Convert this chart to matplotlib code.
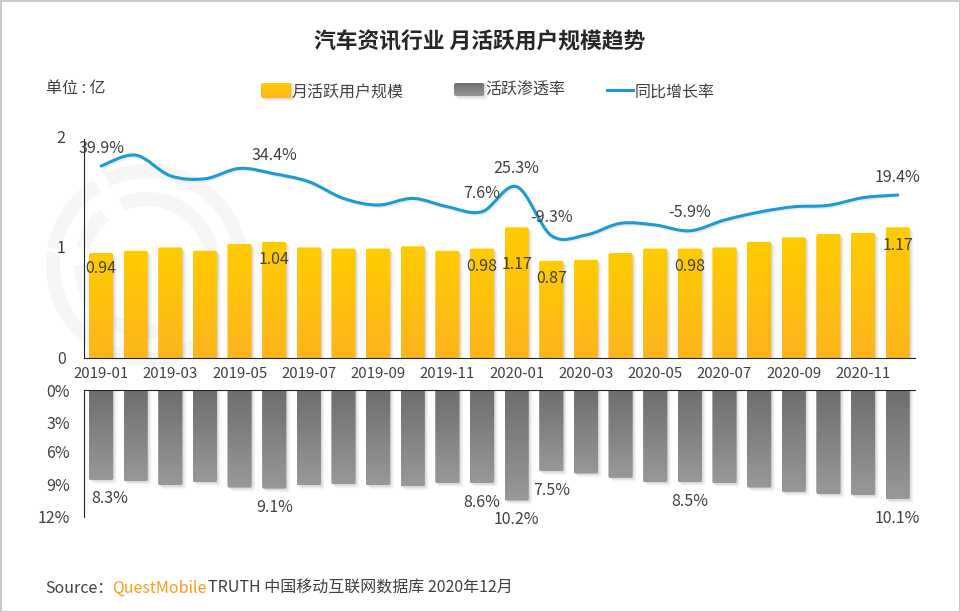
"""Monthly active users of auto-info apps, with penetration and YoY growth."""

import numpy as np
import matplotlib
matplotlib.use("Agg")
import matplotlib.pyplot as plt
from matplotlib.patches import FancyBboxPatch, PathPatch, Wedge
from matplotlib.path import Path
from matplotlib.transforms import Affine2D

plt.rcParams["font.family"] = ["Noto Sans CJK SC", "DejaVu Sans"]

# ── Data ─────────────────────────────────────────────────────────────────────

MONTHS = ["2019-01", "2019-02", "2019-03", "2019-04", "2019-05", "2019-06",
          "2019-07", "2019-08", "2019-09", "2019-10", "2019-11", "2019-12",
          "2020-01", "2020-02", "2020-03", "2020-04", "2020-05", "2020-06",
          "2020-07", "2020-08", "2020-09", "2020-10", "2020-11", "2020-12"]
MAU = [0.94, 0.96, 0.99, 0.96, 1.02, 1.04, 0.99, 0.98, 0.98, 1.00, 0.96, 0.98,
       1.17, 0.87, 0.88, 0.94, 0.98, 0.98, 0.99, 1.04, 1.08, 1.11, 1.12, 1.17]
PENETRATION = [8.3, 8.4, 8.8, 8.5, 9.0, 9.1, 8.8, 8.7, 8.8, 8.9, 8.6, 8.6,
               10.2, 7.5, 7.7, 8.1, 8.5, 8.5, 8.6, 9.0, 9.4, 9.6, 9.7, 10.1]
GROWTH = [39.9, 47.6, 33.0, 30.9, 38.2, 34.4, 28.8, 17.0, 12.3, 17.0, 11.1, 7.6,
          25.3, -9.3, -8.9, -0.6, -1.8, -5.9, 1.7, 7.3, 11.1, 12.1, 17.5, 19.4]

TOP_TICK_LABELS = ["0", "1", "2"]
BOTTOM_TICK_LABELS = ["0%", "3%", "6%", "9%", "12%"]

MAU_LABELS = {0: 0.94, 5: 1.04, 11: 0.98, 12: 1.17, 13: 0.87, 17: 0.98, 23: 1.17}
PEN_LABELS = {0: 8.3, 5: 9.1, 11: 8.6, 12: 10.2, 13: 7.5, 17: 8.5, 23: 10.1}
GROWTH_LABELS = {0: 39.9, 5: 34.4, 11: 7.6, 12: 25.3, 13: -9.3, 17: -5.9, 23: 19.4}

# ── Styling ──────────────────────────────────────────────────────────────────

W, H = 960, 612
TEXT = "#404040"
LINE_BLUE = "#1A9BD1"
YELLOW = ("#FFCC00", "#FDB51E")
GREY = ("#6E6E6E", "#989898")
WATERMARK = "#F6F6F6"
LIGHT = dict(color=TEXT, fontweight="light")


def px_axes(fig, left, top, right, bottom):
    """Axes placed by reference pixel edges."""
    return fig.add_axes([left / W, 1 - bottom / H, (right - left) / W, (bottom - top) / H])


def gradient_bar(ax, x, y0, y1, colors, width=0.7, radius=2.0, square_base=True):
    """Rounded bar from y0 to y1: vertical gradient plus a soft shadow to the lower right."""
    c0 = np.array(matplotlib.colors.to_rgb(colors[0]))
    c1 = np.array(matplotlib.colors.to_rgb(colors[1]))
    t = np.linspace(0, 1, 64)[:, None]
    img = (c0 * (1 - t) + c1 * t).reshape(64, 1, 3)

    ymin, ymax = ax.get_ylim()
    inverted = ymin > ymax
    x_unit = ax.get_window_extent().width / abs(np.ptp(ax.get_xlim()))
    y_unit = ax.get_window_extent().height / abs(np.ptp(ax.get_ylim()))
    aspect = x_unit / y_unit
    rounding = radius / x_unit
    low, high = min(y0, y1), max(y0, y1)

    # push the square base past the axis so only the free end looks rounded
    base_pad = (radius + 1) / y_unit if square_base else 0
    box_low = low - base_pad
    style = f"round,pad=0,rounding_size={rounding}"

    for off, alpha in [(4.0, 0.04), (3.0, 0.06), (2.0, 0.08), (1.0, 0.10)]:
        grow = off / y_unit if inverted else -off / y_unit
        ax.add_patch(FancyBboxPatch((x - width / 2 + off / x_unit, box_low), width,
                                    high - box_low + grow, boxstyle=style,
                                    mutation_aspect=aspect, fc="#707070", ec="none",
                                    alpha=alpha, zorder=2))

    box = FancyBboxPatch((x - width / 2, box_low), width, high - box_low, boxstyle=style,
                         mutation_aspect=aspect, fc="none", ec="none", zorder=3)
    ax.add_patch(box)
    # first image row is the screen top of the bar
    top_val, bot_val = (low, high) if inverted else (high, low)
    im = ax.imshow(img, extent=(x - width / 2, x + width / 2, bot_val, top_val),
                   origin="upper", aspect="auto", zorder=3, interpolation="bilinear")
    im.set_clip_path(box)
    ax.set_ylim(ymin, ymax)


def smooth_path(x, y):
    """Catmull-Rom through the points as cubic Bezier segments."""
    pts = np.column_stack([x, y])
    verts = [pts[0]]
    codes = [Path.MOVETO]
    for i in range(len(pts) - 1):
        p0 = pts[max(i - 1, 0)]
        p1, p2 = pts[i], pts[i + 1]
        p3 = pts[min(i + 2, len(pts) - 1)]
        verts += [p1 + (p2 - p0) / 6, p2 - (p3 - p1) / 6, p2]
        codes += [Path.CURVE4] * 3
    return Path(verts, codes)


def ring_piece(ax, center, radius, width, a1, a2):
    """Arc between screen angles a1 < a2 (counter-clockwise) on a y-down axes."""
    ax.add_patch(Wedge(center, radius, -a2, -a1, width=width, fc=WATERMARK, ec="none"))


# ── Figure ───────────────────────────────────────────────────────────────────

fig = plt.figure(figsize=(W / 100, H / 100), dpi=100, facecolor="white")

# page layer in pixel coordinates: frame and watermark
bg = fig.add_axes([0, 0, 1, 1], zorder=0)
bg.set_xlim(0, W)
bg.set_ylim(H, 0)
bg.axis("off")
for a1, a2 in [(172, 300), (122, 170), (-10, 115)]:
    ring_piece(bg, (147, 265), 101, 14, a1, a2)
for a1, a2 in [(180, 290), (130, 165), (-30, 113)]:
    ring_piece(bg, (147, 265), 73, 14, a1, a2)
bg.plot([0.5, W - 0.5, W - 0.5, 0.5, 0.5], [0.5, 0.5, H - 0.5, H - 0.5, 0.5],
        color="#C8C8C8", lw=1.4)

x = np.arange(len(MONTHS))

# ── Top panel ────────────────────────────────────────────────────────────────

ax = px_axes(fig, 83.7, 134.3, 915, 358.3)
ax.patch.set_alpha(0)
ax.set_zorder(2)
ax.set_xlim(-0.5, 23.5)
ax.set_ylim(0, 2)
for xi, v in zip(x, MAU):
    gradient_bar(ax, xi, 0, v, YELLOW)
ax.set_xlim(-0.5, 23.5)
ax.set_ylim(0, 2)
ax.set_yticks([0.01, 1, 1.98])
ax.set_yticklabels(TOP_TICK_LABELS, fontsize=11.5, **LIGHT)
ax.set_xticks(x[::2])
ax.set_xticklabels(MONTHS[::2], fontsize=10.8, **LIGHT)
ax.tick_params(axis="x", length=0, pad=6)
ax.tick_params(axis="y", length=0, pad=13)
for s in ("top", "right"):
    ax.spines[s].set_visible(False)
ax.spines["left"].set_bounds(0, 1.96)
for s in ("left", "bottom"):
    ax.spines[s].set_color("#262626")
    ax.spines[s].set_zorder(5)
MAU_DROP = {0: 0.135, 12: 0.33}
for i, v in MAU_LABELS.items():
    ax.text(i, v - MAU_DROP.get(i, 0.16), f"{v:.2f}", ha="center", va="center",
            fontsize=11.5, zorder=6, **LIGHT)

# growth line sits on its own hidden scale
ax2 = px_axes(fig, 83.7, 134.3, 915, 358.3)
ax2.set_zorder(3)
ax2.patch.set_alpha(0)
ax2.axis("off")
ax2.set_xlim(-0.5, 23.5)
ax2.set_ylim(-96, 62.3)
curve = smooth_path(x, np.array(GROWTH))
ax2.add_patch(PathPatch(curve, fc="none", ec="#BBBBBB", lw=2.2, alpha=0.3,
                        transform=ax2.transData + Affine2D().translate(1.5, -1.5)))
ax2.add_patch(PathPatch(curve, fc="none", ec=LINE_BLUE, lw=2.2, capstyle="round"))
for i, v in GROWTH_LABELS.items():
    ax2.text(i, v + 12.6, f"{v}%", ha="center", va="center", fontsize=11.5, **LIGHT)

# ── Bottom panel ─────────────────────────────────────────────────────────────

axb = px_axes(fig, 83.7, 390.3, 915, 520)
axb.patch.set_alpha(0)
axb.set_zorder(2)
axb.set_xlim(-0.5, 23.5)
axb.set_ylim(12, 0)
for xi, v in zip(x, PENETRATION):
    gradient_bar(axb, xi, 0, v, GREY)
axb.set_xlim(-0.5, 23.5)
axb.set_ylim(12, 0)
# axis labels run on a slightly tighter spacing than the bars
axb.set_yticks([0, 2.95, 5.7, 8.7, 11.7])
axb.set_yticklabels(BOTTOM_TICK_LABELS, fontsize=11.5, **LIGHT)
for lab in axb.get_yticklabels():
    lab.set_transform(lab.get_transform() + Affine2D().translate(0, 1))
axb.set_xticks([])
axb.tick_params(length=0, pad=10)
for s in ("bottom", "right"):
    axb.spines[s].set_visible(False)
axb.spines["left"].set_bounds(0, 11.7)
for s in ("left", "top"):
    axb.spines[s].set_color("#262626")
    axb.spines[s].set_zorder(5)
PEN_SHIFT = {0: 0.26}
for i, v in PEN_LABELS.items():
    axb.text(i + PEN_SHIFT.get(i, 0), v + 1.75, f"{v}%", ha="center", va="center",
             fontsize=11.5, clip_on=False, **LIGHT)

# ── Texts and legend ─────────────────────────────────────────────────────────

top = fig.add_axes([0, 0, 1, 1], zorder=5)
top.set_xlim(0, W)
top.set_ylim(H, 0)
top.axis("off")
top.patch.set_alpha(0)

top.text(480, 42, "汽车资讯行业 月活跃用户规模趋势", ha="center", va="center",
         fontsize=15.7, fontweight="bold", color="#262626")
top.text(46, 88, "单位 : 亿", ha="left", va="center", fontsize=11.5, **LIGHT)

gradient_bar(top, 276, 83, 98, YELLOW, width=30, square_base=False)
gradient_bar(top, 469, 83, 96, GREY, width=30, square_base=False)
top.set_xlim(0, W)
top.set_ylim(H, 0)
top.text(292, 92, "月活跃用户规模", ha="left", va="center", fontsize=11.5, **LIGHT)
top.text(485, 90, "活跃渗透率", ha="left", va="center", fontsize=11.5, **LIGHT)
top.plot([607, 633], [90, 90], color=LINE_BLUE, lw=2.2)
top.text(635, 92, "同比增长率", ha="left", va="center", fontsize=11.5, **LIGHT)

top.text(45, 588, "Source：", ha="left", va="center", fontsize=11.5, **LIGHT)
top.text(112, 588, "QuestMobile", ha="left", va="center", fontsize=11.5, color="#FF9A14")
top.text(208, 588, "TRUTH 中国移动互联网数据库 2020年12月", ha="left", va="center",
         fontsize=11.5, **LIGHT)

fig.savefig("out.png", dpi=100)
